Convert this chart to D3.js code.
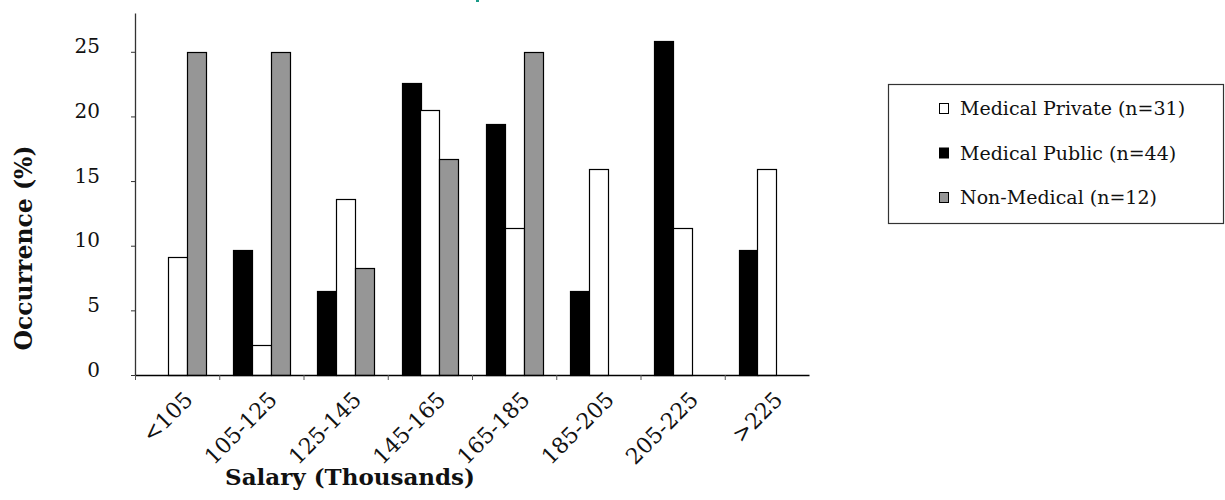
<!DOCTYPE html>
<html>
<head>
<meta charset="utf-8">
<script src="https://cdn.jsdelivr.net/npm/d3@7"></script>
<style>
  html, body { margin: 0; padding: 0; background: #fff; }
  svg { display: block; }
  text { font-family: "DejaVu Serif", "Liberation Serif", serif; fill: #111; }
</style>
</head>
<body>
<svg id="chart" width="1225" height="500"></svg>
<script>
// Salary bands (thousands)
const categories = ["<105", "105-125", "125-145", "145-165", "165-185", "185-205", "205-225", ">225"];

// Occurrence (%) per band for each group
const medicalPublic  = [0, 9.7, 6.5, 22.6, 19.4, 6.5, 25.8, 9.7];
const medicalPrivate = [9.1, 2.3, 13.6, 20.5, 11.4, 15.9, 11.4, 15.9];
const nonMedical     = [25, 25, 8.3, 16.7, 25, 0, 0, 0];

const seriesKeys   = ["public", "private", "nonmed"];
const seriesLabels = {
  private: "Medical Private (n=31)",
  public:  "Medical Public (n=44)",
  nonmed:  "Non-Medical (n=12)"
};
const legendOrder = ["private", "public", "nonmed"];
const yTicks = [0, 5, 10, 15, 20, 25];

const seriesValues = { public: medicalPublic, private: medicalPrivate, nonmed: nonMedical };
const fills = { public: "#000000", private: "#ffffff", nonmed: "#969696" };

const svg = d3.select("#chart");

const plot = { left: 135, right: 809, top: 13, bottom: 375 };

const x = d3.scaleBand()
  .domain(categories)
  .range([plot.left, plot.right])
  .paddingInner(0)
  .paddingOuter(0);

const xInner = d3.scaleBand()
  .domain(seriesKeys)
  .range([0, x.bandwidth()])
  .paddingInner(0)
  .paddingOuter(0.74);

const y = d3.scaleLinear()
  .domain([0, 28])
  .range([plot.bottom, plot.top]);

// Bars
const rows = [];
categories.forEach((c, i) => {
  seriesKeys.forEach(k => {
    const v = seriesValues[k][i];
    if (v > 0) rows.push({ cat: c, key: k, value: v });
  });
});

svg.append("g")
  .selectAll("rect")
  .data(rows)
  .join("rect")
  .attr("x", d => Math.round(x(d.cat) + xInner(d.key)) + 0.5)
  .attr("y", d => Math.round(y(d.value)) + 0.5)
  .attr("width", Math.round(xInner.bandwidth()))
  .attr("height", d => Math.round(y(0)) - Math.round(y(d.value)))
  .attr("fill", d => fills[d.key])
  .attr("stroke", "#000")
  .attr("stroke-width", 1.2);

// Y axis
const yAxis = svg.append("g")
  .attr("transform", `translate(${plot.left},0)`)
  .call(d3.axisLeft(y).tickValues(yTicks).tickSize(4).tickSizeOuter(0));
yAxis.select(".domain").attr("stroke", "#333").attr("stroke-width", 1.3);
yAxis.selectAll(".tick line").attr("stroke", "#333");
yAxis.selectAll(".tick text")
  .attr("x", -35)
  .attr("dy", null)
  .attr("y", 1)
  .style("font-family", "'DejaVu Serif', serif")
  .style("font-size", "20px")
  .attr("fill", "#111");

// X axis: boundary ticks between salary bands
const xEdge = d3.scaleLinear().domain([0, categories.length]).range([plot.left, plot.right]);
const xAxis = svg.append("g")
  .attr("transform", `translate(0,${plot.bottom})`)
  .call(d3.axisBottom(xEdge)
    .tickValues(d3.range(0, categories.length))
    .tickFormat("")
    .tickSize(5)
    .tickSizeOuter(0));
xAxis.select(".domain").attr("stroke", "#000").attr("stroke-width", 1.6);
xAxis.selectAll(".tick line").attr("stroke", "#555");

// Rotated band labels
svg.append("g")
  .selectAll("text")
  .data(categories)
  .join("text")
  .attr("transform", d => `translate(${x(d) + x.bandwidth() / 2 + 17},401) rotate(-45)`)
  .attr("text-anchor", "end")
  .style("font-size", "22px")
  .text(d => d);

// Axis titles
svg.append("text")
  .attr("transform", "translate(32,248) rotate(-90)")
  .attr("text-anchor", "middle")
  .style("font-size", "23.5px")
  .style("font-weight", "bold")
  .text("Occurrence (%)");

svg.append("text")
  .attr("x", 350)
  .attr("y", 485)
  .attr("text-anchor", "middle")
  .style("font-size", "23px")
  .style("font-weight", "bold")
  .text("Salary (Thousands)");

// Legend
const legend = svg.append("g");
legend.append("rect")
  .attr("x", 888.5).attr("y", 84.5)
  .attr("width", 335).attr("height", 139)
  .attr("fill", "#fff")
  .attr("stroke", "#333")
  .attr("stroke-width", 1.2);

const items = legend.selectAll("g.item")
  .data(legendOrder)
  .join("g")
  .attr("class", "item")
  .attr("transform", (d, i) => `translate(0,${115 + i * 44.5})`);

items.append("rect")
  .attr("x", 939.5).attr("y", -11.5)
  .attr("width", 9).attr("height", 10)
  .attr("fill", d => fills[d])
  .attr("stroke", "#000")
  .attr("stroke-width", 1);

items.append("text")
  .attr("x", 960)
  .attr("y", 0)
  .style("font-size", "19px")
  .text(d => seriesLabels[d]);

// Small teal fragment at the top edge
svg.append("rect")
  .attr("x", 476).attr("y", 0)
  .attr("width", 3).attr("height", 2)
  .attr("fill", "#1a9a88");
</script>
</body>
</html>
